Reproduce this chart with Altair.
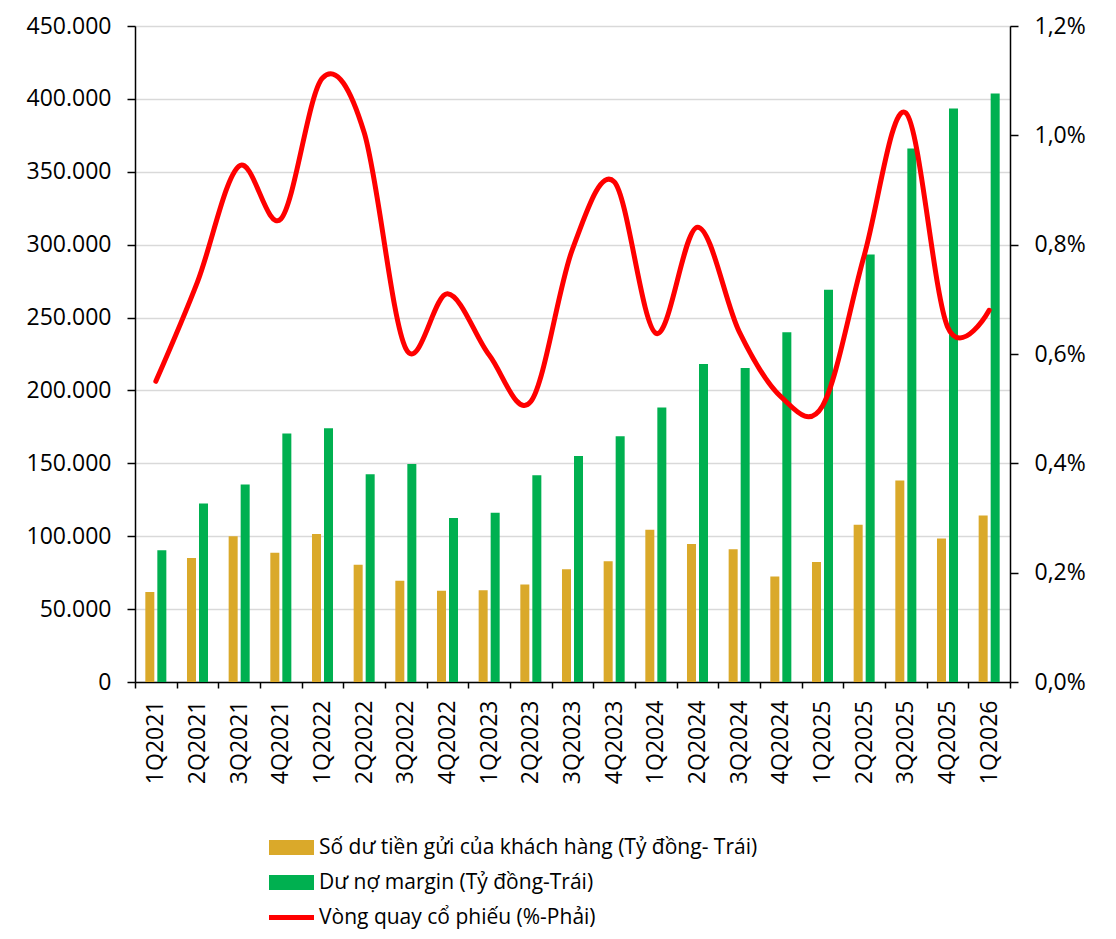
import altair as alt
import pandas as pd

quarters = ["1Q2021", "2Q2021", "3Q2021", "4Q2021", "1Q2022", "2Q2022", "3Q2022",
            "4Q2022", "1Q2023", "2Q2023", "3Q2023", "4Q2023", "1Q2024", "2Q2024",
            "3Q2024", "4Q2024", "1Q2025", "2Q2025", "3Q2025", "4Q2025", "1Q2026"]
deposits = [61750, 85000, 100000, 88600, 101600, 80400, 69500, 62600, 63000, 66900,
            77400, 82900, 104500, 94700, 91100, 72400, 82400, 107900, 138200, 98400, 114300]
margin = [90400, 122500, 135500, 170500, 174000, 142500, 149600, 112500, 116100, 141900,
          155000, 168500, 188300, 218200, 215400, 240000, 269100, 293300, 365900, 393400, 403700]
turnover = [0.550, 0.732, 0.944, 0.847, 1.105, 1.005, 0.610, 0.710, 0.598, 0.513, 0.792,
            0.915, 0.638, 0.832, 0.641, 0.522, 0.505, 0.780, 1.041, 0.650, 0.680]

s_dep = "Số dư tiền gửi của khách hàng (Tỷ đồng- Trái)"
s_mar = "Dư nợ margin (Tỷ đồng-Trái)"
s_turn = "Vòng quay cổ phiếu (%-Phải)"
series_names = [s_dep, s_mar, s_turn]
colors = ["#DAA92A", "#00B050", "#FF0000"]

bars_df = pd.DataFrame(
    [{"quarter": q, "series": s_dep, "value": v} for q, v in zip(quarters, deposits)]
    + [{"quarter": q, "series": s_mar, "value": v} for q, v in zip(quarters, margin)]
)
line_df = pd.DataFrame({"quarter": quarters, "series": s_turn, "value": turnover})

FONT = "Open Sans"

color_scale = alt.Scale(domain=series_names, range=colors)

rect_path = "M-1,-1H5V1H-1Z"
line_path = "M-1,-0.33H5V0.33H-1Z"

legend = alt.Legend(
    orient="none", legendX=131, legendY=811, direction="vertical", title=None,
    symbolType=alt.ExprRef(expr=f"datum.label == '{s_turn}' ? '{line_path}' : '{rect_path}'"),
    symbolSize=225, symbolStrokeWidth=0, symbolOpacity=1,
    labelOffset=32, labelFontSize=21, labelFont=FONT, labelColor="black",
    rowPadding=13, labelLimit=800,
)

x_enc = alt.X(
    "quarter:N", sort=quarters, title=None,
    scale=alt.Scale(paddingInner=0, paddingOuter=0),
    axis=alt.Axis(labelAngle=-90, labelFont=FONT, labelFontSize=23, labelColor="black",
                  tickBand="extent", tickColor="black", tickSize=6, tickWidth=1.5,
                  domainColor="black", domainWidth=1.5, labelPadding=12, grid=False),
)

bars = alt.Chart(bars_df).mark_bar().encode(
    x=x_enc,
    xOffset=alt.XOffset("series:N", sort=[s_dep, s_mar],
                        scale=alt.Scale(paddingInner=0.25, paddingOuter=0.86)),
    y=alt.Y("value:Q", title=None,
            scale=alt.Scale(domain=[0, 450000], nice=False),
            axis=alt.Axis(values=list(range(0, 450001, 50000)),
                          labelExpr="replace(format(datum.value, ','), ',', '.')",
                          labelFont=FONT, labelFontSize=23, labelColor="black",
                          tickColor="black", tickSize=8, tickWidth=1.5,
                          domainColor="black", domainWidth=1.5, labelPadding=16,
                          grid=True, gridColor="#D9D9D9", gridWidth=1.5)),
    color=alt.Color("series:N", scale=color_scale, legend=legend),
)

line = alt.Chart(line_df).mark_line(
    interpolate="cardinal", strokeWidth=5, strokeCap="round", strokeJoin="round"
).encode(
    x=alt.X("quarter:N", sort=quarters),
    y=alt.Y("value:Q", title=None,
            scale=alt.Scale(domain=[0, 1.2], nice=False),
            axis=alt.Axis(orient="right", values=[0, 0.2, 0.4, 0.6, 0.8, 1.0, 1.2],
                          labelExpr="replace(format(datum.value, '.1f'), '.', ',') + '%'",
                          labelFont=FONT, labelFontSize=23, labelColor="black",
                          tickColor="black", tickSize=8, tickWidth=1.5,
                          domainColor="black", domainWidth=1.5, labelPadding=16,
                          grid=False)),
    color=alt.Color("series:N", scale=color_scale, legend=legend),
)

chart = alt.layer(bars, line).resolve_scale(y="independent").properties(
    width=875, height=656,
    autosize=alt.AutoSizeParams(type="none"),
    padding={"left": 127, "top": 18, "right": 90, "bottom": 249},
).configure_view(stroke=None).configure(background="white")

chart.save("out.html", embed_options={"renderer": "svg", "actions": False})
